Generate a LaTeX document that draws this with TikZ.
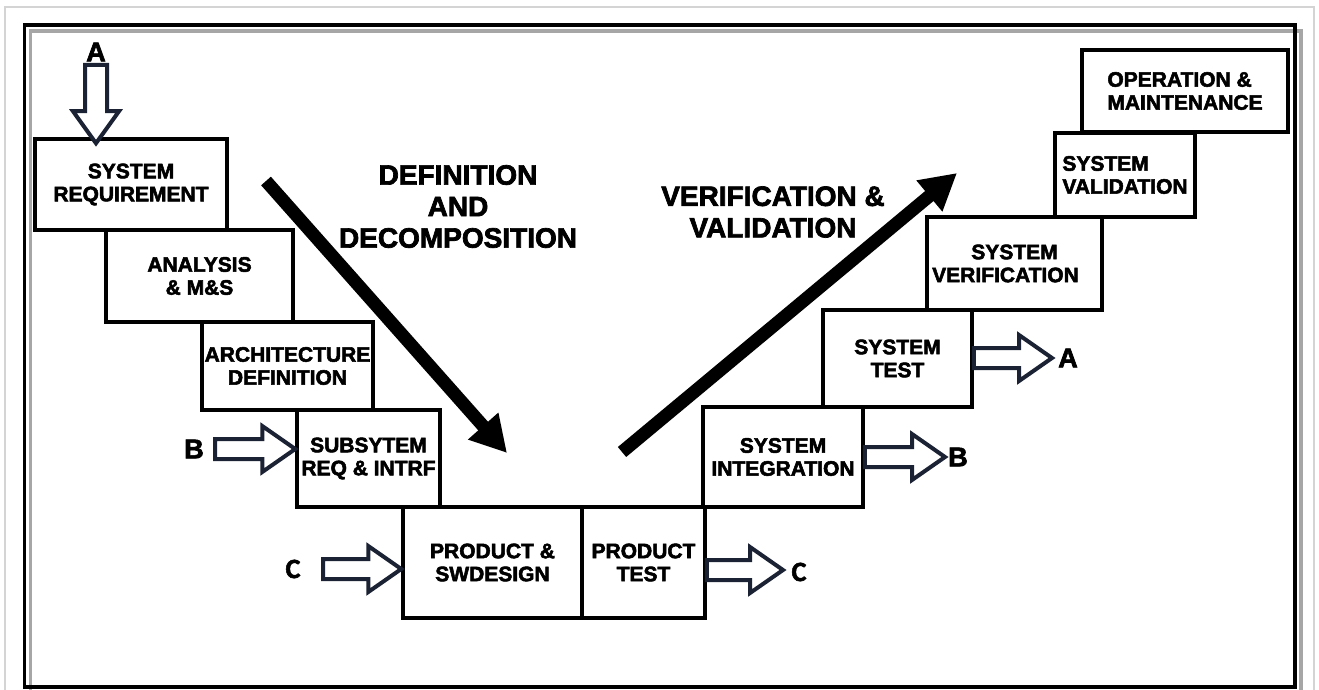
\documentclass[tikz,border=0pt]{standalone}
\usepackage{fontspec}
\setmainfont{Liberation Sans}
\newfontfamily\heavyfont{Liberation Sans Bold}[FakeBold=2.5]
\newfontfamily\calibfont{Carlito Bold}[FakeBold=2]
\usetikzlibrary{arrows.meta,calc}
\definecolor{arrowcol}{HTML}{1B2233}
\definecolor{framegray}{HTML}{A6A6A6}
\definecolor{edgegray}{HTML}{D4D4D4}
\newcommand\boxfnt{\heavyfont\fontsize{21}{23}\selectfont}
\newcommand\bigfnt{\heavyfont\fontsize{28}{31.5}\selectfont}
% horizontal hollow arrow: #1 shaft start, #2 tip
\newcommand\harrow[2]{\draw[hollow] let \p1=(#1), \p2=(#2) in
  (\x1,\y1+10pt) -- (\x2-33pt,\y1+10pt) -- (\x2-33pt,\y1+23pt) -- (\x2,\y1)
  -- (\x2-33pt,\y1-23pt) -- (\x2-33pt,\y1-10pt) -- (\x1,\y1-10pt) -- cycle;}
\begin{document}
\begin{tikzpicture}[x=1pt,y=-1pt,
  box/.style={draw=black, line width=3.5pt, fill=white, inner sep=0pt,
              font=\boxfnt, align=center},
  hollow/.style={draw=arrowcol, line width=4pt, fill=white, line join=miter},
  bigarrow/.style={draw=black, line width=13pt, -{Triangle[length=36pt,width=38pt]}},
  lab/.style={font=\heavyfont\fontsize{27}{29}\selectfont, inner sep=0pt},
  labc/.style={font=\calibfont\fontsize{28}{30}\selectfont, inner sep=0pt},
  biglab/.style={font=\bigfnt, align=center, inner sep=0pt}]
\useasboundingbox (0,0) rectangle (1319,690);
\fill[white] (0,0) rectangle (1319,690);
% frames
\draw[edgegray, line width=1.5pt] (5,700) -- (5,7) -- (1314,7) -- (1314,700);
\draw[framegray, line width=3.5pt] (30.5,31) rectangle (1301,693);
\draw[black, line width=3.5pt] (24.5,25) rectangle (1295,687);

% boxes
\node[box, minimum width=192pt, minimum height=91pt] (sr) at (131,184.5) {SYSTEM\\REQUIREMENT};
\node[box, minimum width=187pt, minimum height=92pt] (an) at (199.5,276) {ANALYSIS\\\& M\&S};
\node[box, minimum width=171pt, minimum height=88pt] (ar) at (287.5,366) {ARCHITECTURE\\DEFINITION};
\node[box, minimum width=143pt, minimum height=97pt] (sub) at (368.5,458.5) {SUBSYTEM\\REQ \& INTRF};
\node[box, minimum width=179pt, minimum height=111pt] (pd) at (492.5,562.5) {PRODUCT \&\\SWDESIGN};
\node[box, minimum width=123pt, minimum height=111pt] (pt) at (643.5,562.5) {PRODUCT\\TEST};
\node[box, minimum width=160pt, minimum height=100pt] (si) at (783,457) {SYSTEM\\INTEGRATION};
\node[box, minimum width=149pt, minimum height=97pt] (st) at (897.5,358.5) {SYSTEM\\TEST};
\node[box, minimum width=175pt, minimum height=93pt] (sv) at (1014.5,263.5) {SYSTEM\\VERIFICATION\hspace*{18pt}};
\node[box, minimum width=140pt, minimum height=84pt, align=left] (sva) at (1125,175) {SYSTEM\\VALIDATION};
\node[box, minimum width=206pt, minimum height=82pt, align=left] (om) at (1185,91) {OPERATION \&\\MAINTENANCE};

% big labels
\node[biglab] (dd) at (458,206.5) {DEFINITION\\AND\\DECOMPOSITION};
\node[biglab] (vv) at (773,212) {VERIFICATION \&\\VALIDATION};

% big arrows
\coordinate (d1) at (266,181);
\coordinate (d2) at (507,453);
\draw[bigarrow] (d1) -- (d2);
\coordinate (v1) at (622,452);
\coordinate (v2) at (957,173);
\draw[bigarrow] (v1) -- (v2);

% A/B/C labels and hollow arrows
\node[lab] (aT) at (96,52) {A};
\coordinate (aTs) at (96,65);
\coordinate (aTt) at ($(sr.north -| aTs)+(0,6)$);
\draw[hollow] let \p1=(aTs), \p2=(aTt) in
  (\x1-11pt,\y1) -- (\x1-11pt,\y2+32pt) -- (\x1-23pt,\y2+32pt) -- (\x2,\y2)
  -- (\x1+23pt,\y2+32pt) -- (\x1+11pt,\y2+32pt) -- (\x1+11pt,\y1) -- cycle;

\node[lab] (bL) at (194,449) {B};
\coordinate (bLs) at (215,449);
\harrow{bLs}{sub.west |- bLs}

\node[labc] (cL) at (293,569) {C};
\coordinate (cLs) at (323,569);
\harrow{cLs}{pd.west |- cLs}

\node[labc] (cR) at (799,572) {C};
\coordinate (cRt) at (783,570);
\harrow{pt.east |- cRt}{cRt}

\node[lab] (bR) at (958,457) {B};
\coordinate (bRt) at (945,457);
\harrow{si.east |- bRt}{bRt}

\node[lab] (aR) at (1068,358) {A};
\coordinate (aRt) at (1052,358);
\harrow{st.east |- aRt}{aRt}
\end{tikzpicture}
\end{document}
